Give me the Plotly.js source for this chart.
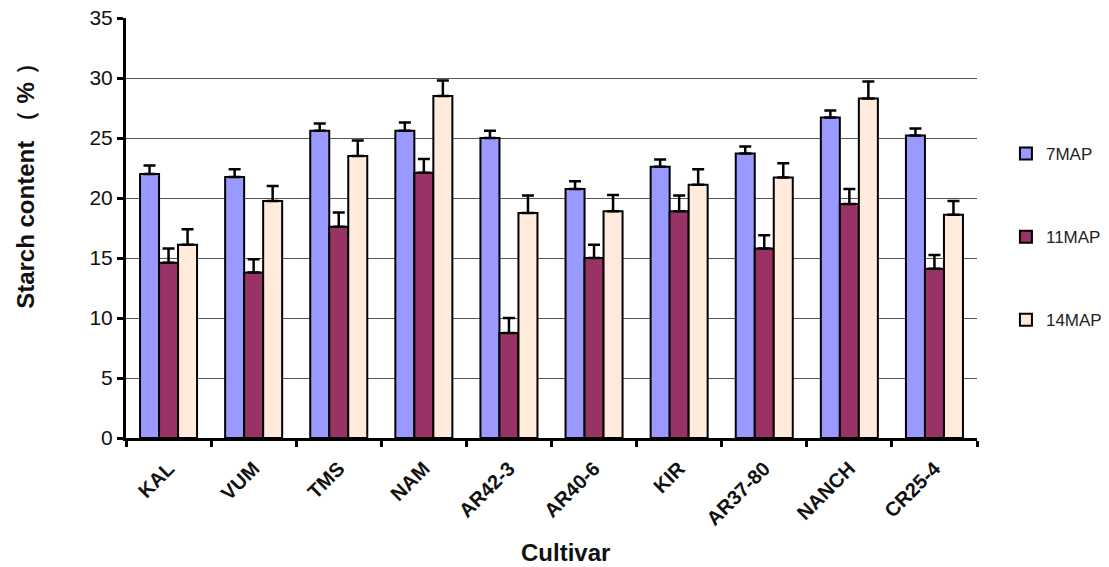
<!DOCTYPE html>
<html>
<head>
<meta charset="utf-8">
<script src="https://cdn.plot.ly/plotly-3.0.1.min.js"></script>
<style>html,body{margin:0;padding:0;background:#fff;}#chart{width:1109px;height:567px;}</style>
</head>
<body>
<div id="chart"></div>
<script>
const cultivars = ["KAL","VUM","TMS","NAM","AR42-3","AR40-6","KIR","AR37-80","NANCH","CR25-4"];
const map7  = [22.0, 21.75, 25.6, 25.6, 25.0, 20.75, 22.6, 23.7, 26.7, 25.2];
const map7err  = [0.7, 0.65, 0.6, 0.7, 0.6, 0.65, 0.6, 0.6, 0.6, 0.6];
const map11 = [14.6, 13.8, 17.6, 22.1, 8.75, 15.0, 18.9, 15.8, 19.5, 14.1];
const map11err = [1.2, 1.1, 1.2, 1.15, 1.25, 1.1, 1.3, 1.1, 1.25, 1.15];
const map14 = [16.1, 19.75, 23.5, 28.5, 18.75, 18.9, 21.1, 21.7, 28.3, 18.6];
const map14err = [1.3, 1.25, 1.3, 1.3, 1.45, 1.35, 1.3, 1.2, 1.4, 1.15];
const seriesNames = ["7MAP","11MAP","14MAP"];
const colors = ["#9999FF","#993366","#FFEADB"];
const yTitle = "Starch content （ % ）";
const xTitle = "Cultivar";

const vals = [map7, map11, map14];
const errs = [map7err, map11err, map14err];
const traces = vals.map((v,i)=>({
  type:"bar", name:seriesNames[i], x:cultivars, y:v, legendgroup:"g"+i,
  marker:{color:colors[i], line:{color:"#000", width:2}},
  error_y:{type:"data", symmetric:false, array:errs[i], arrayminus:errs[i].map(()=>0),
           color:"#000", thickness:2.5, width:6}
}));

const layout = {
  width:1109, height:567,
  margin:{l:126, r:132, t:18, b:129, autoexpand:false},
  paper_bgcolor:"#fff", plot_bgcolor:"#fff",
  barmode:"group", bargap:0.33, bargroupgap:0,
  font:{family:"Liberation Sans, Arial, sans-serif", color:"#000"},
  showlegend:true,
  legend:{x:1.034, xanchor:"left", y:0.719, yanchor:"top", tracegroupgap:58,
          font:{size:17, color:"#222"}, itemwidth:30, bgcolor:"rgba(0,0,0,0)"},
  xaxis:{
    type:"category", showline:true, linecolor:"#000", linewidth:3,
    ticks:"outside", tickson:"boundaries", ticklen:6, tickwidth:3, tickcolor:"#000",
    tickangle:-45, ticklabelstandoff:8,
    tickfont:{size:20, family:"Liberation Sans, Arial, sans-serif", weight:"bold", color:"#111"},
    showgrid:false, zeroline:false
  },
  yaxis:{
    range:[0,35], dtick:5, showline:true, linecolor:"#000", linewidth:3,
    ticks:"outside", ticklen:6, tickwidth:3, tickcolor:"#000",
    tickfont:{size:21, color:"#111"},
    showgrid:true, gridcolor:"#555", gridwidth:1, zeroline:false
  },
  annotations:[
    {text:"<b>"+yTitle+"</b>", xref:"paper", yref:"paper", x:-0.119, y:0.614,
     xanchor:"center", yanchor:"middle", textangle:-90, showarrow:false,
     font:{size:24, color:"#111"}},
    {text:"<b>"+xTitle+"</b>", xref:"paper", yref:"paper", x:0.517, y:-0.272,
     xanchor:"center", yanchor:"middle", showarrow:false,
     font:{size:24, color:"#111"}}
  ]
};
Plotly.newPlot("chart", traces, layout, {displayModeBar:false, staticPlot:true});
</script>
</body>
</html>
